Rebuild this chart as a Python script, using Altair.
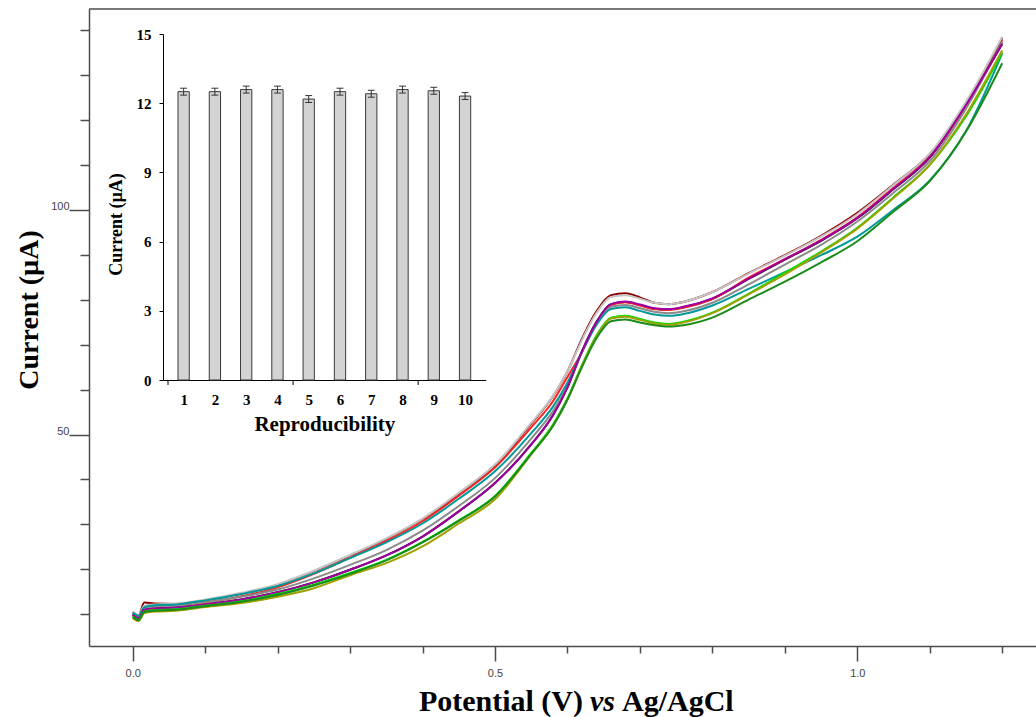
import altair as alt
import pandas as pd

# ---- cyclic voltammograms of ten electrodes -------------------------------
potential = [0.000, 0.008, 0.016, 0.03, 0.06, 0.10, 0.15, 0.20, 0.25, 0.30,
             0.35, 0.40, 0.45, 0.50, 0.55, 0.58, 0.60, 0.62, 0.64, 0.66,
             0.68, 0.70, 0.72, 0.74, 0.76, 0.80, 0.85, 0.90, 0.95, 1.00,
             1.05, 1.10, 1.15, 1.20]

e_dark_red = [10.4, 9.7, 12.6, 12.4, 12.3, 13.1, 14.6, 16.6, 19.6, 23.1,
              26.8, 31.2, 36.9, 43.2, 52.4, 58.5, 64.0, 71.3, 77.4, 81.0,
              81.4, 80.5, 79.3, 79.0, 79.5, 81.7, 85.9, 89.9, 94.2, 99.3,
              105.6, 112.4, 123.8, 138.2]
e_red = [10.0, 9.3, 11.2, 11.2, 11.1, 12.5, 14.0, 16.0, 19.0, 22.6,
         26.3, 30.7, 36.4, 42.7, 51.6, 57.4, 62.8, 68.3, 74.8, 78.8,
         79.4, 78.7, 77.9, 77.7, 78.2, 80.1, 84.9, 89.0, 93.3, 98.3,
         104.9, 111.8, 123.2, 137.8]
e_black = [9.8, 9.1, 11.0, 11.3, 11.5, 12.2, 13.3, 14.9, 17.1, 19.9,
           23.1, 27.3, 32.9, 39.2, 47.8, 54.3, 60.5, 68.5, 75.0, 79.0,
           79.5, 78.8, 78.0, 77.8, 78.3, 80.2, 84.6, 88.9, 93.1, 98.1,
           104.6, 111.6, 123.2, 136.9]
e_light_gray = [10.6, 9.9, 11.9, 12.2, 12.4, 13.3, 14.8, 16.7, 19.7, 23.2,
                26.9, 31.3, 37.0, 43.3, 52.6, 58.6, 64.0, 71.0, 77.0, 80.6,
                81.0, 80.2, 79.3, 79.0, 79.5, 81.7, 85.8, 89.8, 94.0, 99.0,
                105.5, 112.5, 124.0, 138.5]
e_gray = [10.2, 9.5, 11.4, 11.8, 11.9, 12.7, 13.9, 15.5, 18.0, 21.0,
          24.3, 28.6, 34.1, 40.3, 49.1, 55.2, 60.8, 68.3, 74.6, 78.4,
          78.8, 78.1, 77.3, 77.0, 77.4, 79.3, 83.4, 87.8, 92.2, 97.4,
          103.8, 110.8, 122.5, 137.4]
e_teal = [10.4, 9.7, 11.6, 12.0, 12.2, 13.1, 14.5, 16.3, 19.1, 22.5,
          26.0, 30.2, 35.7, 41.8, 50.3, 56.2, 61.5, 68.4, 74.4, 77.9,
          78.3, 77.5, 76.7, 76.4, 76.8, 78.7, 82.4, 86.1, 89.9, 94.0,
          100.0, 106.5, 117.5, 134.8]
e_purple = [9.9, 9.2, 11.0, 11.3, 11.5, 12.2, 13.3, 14.9, 17.1, 19.9,
            23.1, 27.3, 32.9, 39.2, 47.8, 54.3, 60.5, 68.5, 75.0, 79.0,
            79.6, 78.9, 78.1, 77.9, 78.4, 80.3, 84.7, 89.0, 93.2, 98.2,
            104.7, 111.7, 123.3, 137.0]
e_olive = [9.2, 8.5, 10.3, 10.6, 10.8, 11.6, 12.5, 13.9, 15.8, 18.7,
           21.4, 25.1, 30.2, 35.6, 45.6, 52.0, 57.8, 65.3, 71.8, 75.8,
           76.2, 75.5, 74.7, 74.4, 74.9, 77.0, 81.2, 85.6, 90.5, 95.8,
           102.6, 110.0, 121.2, 135.5]
e_lime = [9.5, 8.8, 10.6, 10.9, 11.1, 11.9, 12.9, 14.5, 16.6, 19.2,
          22.1, 26.1, 30.9, 36.3, 45.9, 52.2, 58.0, 65.4, 72.0, 76.0,
          76.4, 75.7, 74.9, 74.6, 75.1, 77.1, 81.3, 86.0, 90.7, 96.0,
          102.8, 110.0, 120.8, 135.0]
e_dark_green = [9.4, 8.7, 10.5, 10.8, 11.0, 11.8, 12.8, 14.3, 16.4, 19.0,
                22.0, 26.0, 30.8, 36.2, 45.7, 51.9, 57.8, 65.0, 71.4, 75.2,
                75.6, 74.9, 74.3, 74.0, 74.3, 76.0, 80.0, 84.0, 88.3, 93.0,
                99.6, 106.4, 117.4, 132.6]

# drawing order: first entry is drawn at the bottom
series = [
    ("E6", e_black, "#000000", 2.0),
    ("E7", e_red, "#ff2020", 2.0),
    ("E2", e_dark_red, "#8b0000", 2.0),
    ("E1", e_light_gray, "#c6c6c6", 3.0),
    ("E5", e_gray, "#8a8a8a", 2.0),
    ("E3", e_teal, "#009999", 2.0),
    ("E4", e_purple, "#a000a0", 2.0),
    ("E9", e_lime, "#00e000", 2.0),
    ("E8", e_olive, "#a0a000", 2.0),
    ("E10", e_dark_green, "#1a8c1a", 2.0),
]

# ---- inset: peak current of each electrode --------------------------------
runs = [1, 2, 3, 4, 5, 6, 7, 8, 9, 10]
peak_current = [12.50, 12.50, 12.59, 12.59, 12.18, 12.50, 12.41, 12.59, 12.54, 12.31]
peak_error = [0.15, 0.15, 0.15, 0.15, 0.15, 0.15, 0.15, 0.15, 0.15, 0.15]
inset_tick_marks = [0.5, 4.5, 8.5]

x_ticks = [0.0, 0.1, 0.2, 0.3, 0.4, 0.5, 0.6, 0.7, 0.8, 0.9, 1.0, 1.1, 1.2]
y_ticks = [10, 20, 30, 40, 50, 60, 70, 80, 90, 100, 110, 120, 130, 140]

title_x_a = "Potential (V)"
title_x_b = "vs"
title_x_c = "Ag/AgCl"
title_y = "Current (µA)"
inset_title_x = "Reproducibility"
inset_title_y = "Current (µA)"

W, H = 947, 637
SERIF = "Liberation Serif"
SANS = "Liberation Sans"
FRAME = "#4d4d4d"

rows = []
for name, vals, _, _ in series:
    for p, c in zip(potential, vals):
        rows.append({"electrode": name, "potential": p, "current": c})
df_cv = pd.DataFrame(rows)

x_scale = alt.Scale(domain=[-0.0603, 1.2466], nice=False, zero=False)
y_scale = alt.Scale(domain=[2.95, 144.66], nice=False, zero=False)

major_x = "datum.value === 0 || datum.value === 0.5 || datum.value === 1"
major_y = "datum.value === 50 || datum.value === 100"

x_axis = alt.Axis(
    orient="bottom", values=x_ticks, grid=False, title=None,
    tickSize={"condition": {"test": major_x, "value": 15}, "value": 7},
    labelExpr="(" + major_x + ") ? format(datum.value, '.1f') : ''",
    domainColor=FRAME, domainWidth=1.5, tickColor=FRAME, tickWidth=1.5,
    labelFont=SANS, labelFontSize=11, labelColor="#444444",
    labelPadding=6, labelBaseline="top",
)
y_axis = alt.Axis(
    orient="left", values=y_ticks, grid=False, title=None,
    tickSize={"condition": {"test": major_y, "value": 20}, "value": 9},
    labelExpr="(" + major_y + ") ? datum.label : ''",
    domainColor=FRAME, domainWidth=1.5, tickColor=FRAME, tickWidth=1.5,
    labelFont=SANS, labelFontSize=11, labelColor="#444444",
    labelPadding=0, labelAlign="right", labelBaseline="alphabetic",
)

lines = alt.Chart(df_cv).mark_line(interpolate="monotone").encode(
    x=alt.X("potential:Q", scale=x_scale, axis=x_axis),
    y=alt.Y("current:Q", scale=y_scale, axis=y_axis),
    color=alt.Color("electrode:N", legend=None,
                    scale=alt.Scale(domain=[s[0] for s in series],
                                    range=[s[2] for s in series])),
    strokeWidth=alt.StrokeWidth("electrode:N", legend=None,
                                scale=alt.Scale(domain=[s[0] for s in series],
                                                range=[s[3] for s in series])),
)

top_edge = alt.Chart(pd.DataFrame({"k": [0]})).mark_rule(
    color=FRAME, strokeWidth=1.5
).encode(x=alt.value(0), x2=alt.value(W), y=alt.value(0))


def label(text, x, y, **kw):
    return alt.Chart(pd.DataFrame({"t": [text]})).mark_text(
        font=SERIF, fontWeight="bold", color="black", **kw
    ).encode(x=alt.value(x), y=alt.value(y), text="t:N")


xt_a = label(title_x_a, 494, 702, fontSize=30, align="right", baseline="alphabetic")
xt_b = label(title_x_b, 513.5, 702, fontSize=30, align="center", baseline="alphabetic",
             fontStyle="italic")
xt_c = label(title_x_c, 533, 702, fontSize=30, align="left", baseline="alphabetic")
yt = label(title_y, -59, 301, fontSize=28, align="center", baseline="middle", angle=270)

main = alt.layer(lines, top_edge, xt_a, xt_b, xt_c, yt)

# ---- inset bar chart --------------------------------------------------------
df_bar = pd.DataFrame({"run": runs, "peak": peak_current, "err": peak_error})
df_marks = pd.DataFrame({"run": inset_tick_marks})

ix_scale = alt.Scale(domain=[0.5, 10.5], range=[74, 396.7], nice=False, zero=False)
iy_scale = alt.Scale(domain=[0, 15], range=[371, 25], nice=False, zero=False)

ix_axis = alt.Axis(
    orient="bottom", offset=-266, values=runs, format="d", grid=False,
    ticks=False, tickSize=0, domainColor="black", domainWidth=1,
    labelFont=SERIF, labelFontWeight="bold", labelFontSize=15, labelColor="black",
    labelPadding=12,
    title=inset_title_x, titleFont=SERIF, titleFontWeight="bold", titleFontSize=21,
    titleColor="black", titlePadding=6,
)
iy_axis = alt.Axis(
    orient="left", offset=-74, values=[0, 3, 6, 9, 12, 15], grid=False,
    tickSize=4, tickColor="black", domainColor="black", domainWidth=1,
    labelFont=SERIF, labelFontWeight="bold", labelFontSize=15, labelColor="black",
    labelPadding=8,
    title=inset_title_y, titleFont=SERIF, titleFontWeight="bold", titleFontSize=18,
    titleColor="black", titleX=-47, titleY=215, titleAngle=270,
    titleAlign="center", titleBaseline="middle",
)

bars = alt.Chart(df_bar).mark_bar(
    size=11.3, fill="#d3d3d3", stroke="#3a3a3a", strokeWidth=1
).encode(
    x=alt.X("run:Q", scale=ix_scale, axis=ix_axis),
    y=alt.Y("peak:Q", scale=iy_scale, axis=iy_axis),
)

err_base = alt.Chart(df_bar).transform_calculate(
    lo="datum.peak - datum.err", hi="datum.peak + datum.err",
    xl="datum.run - 0.11", xr="datum.run + 0.11",
)
err_stem = err_base.mark_rule(color="#333333", strokeWidth=1).encode(
    x=alt.X("run:Q", scale=ix_scale), y=alt.Y("lo:Q", scale=iy_scale), y2="hi:Q"
)
err_cap_hi = err_base.mark_rule(color="#333333", strokeWidth=1).encode(
    x=alt.X("xl:Q", scale=ix_scale), x2="xr:Q", y=alt.Y("hi:Q", scale=iy_scale)
)
err_cap_lo = err_base.mark_rule(color="#333333", strokeWidth=1).encode(
    x=alt.X("xl:Q", scale=ix_scale), x2="xr:Q", y=alt.Y("lo:Q", scale=iy_scale)
)
inset_ticks = alt.Chart(df_marks).mark_rule(color="black", strokeWidth=1).encode(
    x=alt.X("run:Q", scale=ix_scale), y=alt.value(371), y2=alt.value(376)
)

inset = alt.layer(bars, err_stem, err_cap_hi, err_cap_lo, inset_ticks)

chart = alt.layer(main, inset).resolve_scale(
    x="independent", y="independent"
).properties(
    width=W, height=H,
    padding={"left": 89, "top": 9, "right": 0, "bottom": 71},
    autosize=alt.AutoSizeParams(type="none"),
    background="white",
).configure_view(strokeWidth=0)

chart.save("out.html", embed_options={"renderer": "svg", "actions": False})
